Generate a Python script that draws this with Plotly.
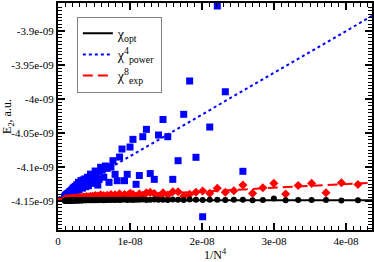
import plotly.graph_objects as go

# ---- data (energies in units of 1e-9 a.u.) ----
N = list(range(70, 181))  # basis size; x = 1/N^4

E_opt = [
    -4.1490, -4.1492, -4.1484, -4.1486, -4.1485, -4.1488, -4.1462, -4.1486, -4.1488, -4.1483,
    -4.1480, -4.1486, -4.1482, -4.1480, -4.1484, -4.1483, -4.1478, -4.1484, -4.1481, -4.1479,
    -4.1485, -4.1480, -4.1483, -4.1478, -4.1482, -4.1484, -4.1479, -4.1483, -4.1480, -4.1485,
    -4.1481, -4.1484, -4.1479, -4.1483, -4.1486, -4.1481, -4.1484, -4.1480, -4.1485, -4.1482,
    -4.1486, -4.1483, -4.1487, -4.1482, -4.1486, -4.1484, -4.1488, -4.1483, -4.1487, -4.1485,
    -4.1489, -4.1484, -4.1488, -4.1486, -4.1490, -4.1485, -4.1489, -4.1487, -4.1490, -4.1486,
    -4.1490, -4.1488, -4.1491, -4.1487, -4.1490, -4.1489, -4.1492, -4.1488, -4.1491, -4.1490,
    -4.1492, -4.1489, -4.1492, -4.1490, -4.1493, -4.1490, -4.1492, -4.1491, -4.1493, -4.1490,
    -4.1493, -4.1491, -4.1494, -4.1491, -4.1493, -4.1492, -4.1494, -4.1492, -4.1494, -4.1492,
    -4.1495, -4.1492, -4.1494, -4.1493, -4.1495, -4.1493, -4.1495, -4.1493, -4.1495, -4.1494,
    -4.1495, -4.1494, -4.1496, -4.1494, -4.1495, -4.1494, -4.1496, -4.1494, -4.1496, -4.1495,
    -4.1496,
]

E_power = [
    None, None, None, None, None, None, None, None, None, -4.1063,
    None, -3.9893, -3.8632, -4.0412, -4.1731, -4.0857, -3.9735, -4.0225, -4.0907, -4.1181,
    -4.0554, -4.0301, -4.0529, -4.1181, -4.1096, -4.0446, -4.0554, -4.1125, -4.1254, -4.0593,
    -4.0706, -4.1107, -4.1201, -4.0735, -4.0853, -4.1201, -4.1107, -4.0907, -4.1000, -4.1225,
    -4.1019, -4.0985, -4.1150, -4.1045, -4.1004, -4.1180, -4.1265, -4.1090, -4.1059, -4.1210,
    -4.1120, -4.1240, -4.1105, -4.1170, -4.1275, -4.1150, -4.1215, -4.1290, -4.1175, -4.1250,
    -4.1190, -4.1310, -4.1230, -4.1200, -4.1300, -4.1245, -4.1330, -4.1225, -4.1280, -4.1340,
    -4.1260, -4.1310, -4.1355, -4.1285, -4.1320, -4.1360, -4.1300, -4.1345, -4.1375, -4.1320,
    -4.1350, -4.1385, -4.1340, -4.1370, -4.1395, -4.1355, -4.1380, -4.1405, -4.1365, -4.1390,
    -4.1410, -4.1380, -4.1415, -4.1395, -4.1420, -4.1390, -4.1425, -4.1405, -4.1430, -4.1400,
    -4.1430, -4.1415, -4.1440, -4.1410, -4.1435, -4.1420, -4.1445, -4.1425, -4.1440, -4.1430,
    -4.1450,
]

E_exp = [
    -4.1257, -4.1231, -4.1378, -4.1240, -4.1272, -4.1397, -4.1240, -4.1304, -4.1387, -4.1265,
    -4.1349, -4.1371, -4.1313, -4.1387, -4.1353, -4.1370, -4.1400, -4.1430, -4.1363, -4.1363,
    -4.1412, -4.1380, -4.1430, -4.1390, -4.1372, -4.1380, -4.1415, -4.1395, -4.1430, -4.1400,
    -4.1385, -4.1420, -4.1405, -4.1430, -4.1395, -4.1425, -4.1410, -4.1440, -4.1405, -4.1430,
    -4.1415, -4.1445, -4.1420, -4.1435, -4.1410, -4.1445, -4.1425, -4.1440, -4.1420, -4.1450,
    -4.1430, -4.1445, -4.1430, -4.1455, -4.1440, -4.1450, -4.1435, -4.1460, -4.1445, -4.1455,
    -4.1440, -4.1460, -4.1450, -4.1465, -4.1445, -4.1460, -4.1450, -4.1465, -4.1455, -4.1470,
    -4.1455, -4.1465, -4.1458, -4.1470, -4.1460, -4.1468, -4.1462, -4.1472, -4.1460, -4.1470,
    -4.1465, -4.1468, -4.1474, -4.1466, -4.1472, -4.1468, -4.1475, -4.1467, -4.1473, -4.1469,
    -4.1476, -4.1470, -4.1474, -4.1468, -4.1476, -4.1471, -4.1475, -4.1470, -4.1477, -4.1472,
    -4.1476, -4.1471, -4.1478, -4.1473, -4.1476, -4.1472, -4.1478, -4.1474, -4.1477, -4.1473,
    -4.1479,
]

# fitted extrapolation lines (endpoints, x in units of 1e-8)
fit_x = [0.0, 4.36]
fit_opt = [-4.1487, -4.1487]
fit_power = [-4.1456, -3.8779]
fit_exp = [-4.1469, -4.1231]

x_ticks = [0, 1e-8, 2e-8, 3e-8, 4e-8]
x_ticktext = ["0", "1e-08", "2e-08", "3e-08", "4e-08"]
y_ticks = [-3.9e-9, -3.95e-9, -4.0e-9, -4.05e-9, -4.1e-9, -4.15e-9]
y_ticktext = ["-3.9e-09", "-3.95e-09", "-4e-09", "-4.05e-09", "-4.1e-09", "-4.15e-09"]

# ---- derived ----
x = [1.0 / n**4 for n in N]
nano = lambda arr: [None if v is None else v * 1e-9 for v in arr]
fx = [v * 1e-8 for v in fit_x]

FONT = "Liberation Serif, Times New Roman, serif"
fig = go.Figure()

fig.add_trace(go.Scatter(x=fx, y=nano(fit_opt), mode="lines",
                         line=dict(color="black", width=2),
                         name="χ<sub>opt</sub>"))
fig.add_trace(go.Scatter(x=fx, y=nano(fit_power), mode="lines",
                         line=dict(color="#0000ff", width=2, dash="dot"),
                         name="χ<sup>4</sup><sub>power</sub>"))
fig.add_trace(go.Scatter(x=fx, y=nano(fit_exp), mode="lines",
                         line=dict(color="#ff0000", width=2, dash="10px,5px"),
                         name="χ<sup>8</sup><sub>exp</sub>"))

fig.add_trace(go.Scatter(x=x, y=nano(E_power), mode="markers", showlegend=False,
                         marker=dict(symbol="square", size=7, color="#0000ff")))
fig.add_trace(go.Scatter(x=x, y=nano(E_exp), mode="markers", showlegend=False,
                         marker=dict(symbol="diamond", size=7, color="#ff0000")))
fig.add_trace(go.Scatter(x=x, y=nano(E_opt), mode="markers", showlegend=False,
                         marker=dict(symbol="circle", size=6, color="black")))

axis_common = dict(
    showgrid=False, zeroline=False, showline=True, linecolor="black", linewidth=2,
    mirror="allticks", ticks="inside", ticklen=7, tickwidth=1.5, tickcolor="black",
    tickfont=dict(family=FONT, size=11, color="black"), automargin=False,
)

fig.update_xaxes(
    range=[0, 4.36e-8], tickmode="array", tickvals=x_ticks, ticktext=x_ticktext,
    minor=dict(ticks="inside", ticklen=4, tickwidth=1, tickcolor="black",
               tickmode="linear", tick0=0, dtick=1e-9),
    title=dict(text="1/N<sup>4</sup>", font=dict(family=FONT, size=12, color="black"),
               standoff=0),
    **axis_common,
)
fig.update_yaxes(
    range=[-4.1926e-9, -3.8588e-9], tickmode="array", tickvals=y_ticks, ticktext=y_ticktext,
    minor=dict(ticks="inside", ticklen=4, tickwidth=1, tickcolor="black",
               tickmode="linear", tick0=-4.15e-9, dtick=5e-12),
    title=dict(text="E<sub>2</sub>, a.u.", font=dict(family=FONT, size=12, color="black"),
               standoff=2),
    **axis_common,
)

fig.update_layout(
    width=374, height=262,
    margin=dict(l=58, r=2, t=3, b=32),
    paper_bgcolor="white", plot_bgcolor="white",
    font=dict(family=FONT, color="black"),
    legend=dict(x=0.06, y=0.94, xanchor="left", yanchor="top",
                bgcolor="white", bordercolor="#808080", borderwidth=1,
                font=dict(family=FONT, size=14, color="black"),
                tracegroupgap=0, itemwidth=30),
)

fig.write_html("out.html",
               config={"displayModeBar": False},
               post_script="document.body.style.margin='0';document.body.style.overflow='hidden';")
